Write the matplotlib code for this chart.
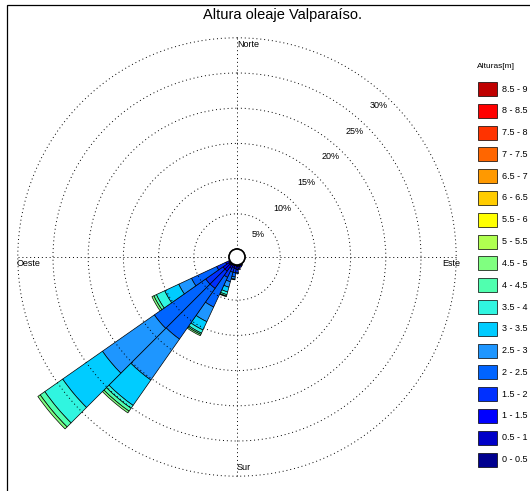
import numpy as np
import matplotlib.pyplot as plt
from matplotlib.patches import Rectangle, Circle

plt.rcParams['font.family'] = ['Liberation Sans', 'DejaVu Sans']

# clases de altura [m] y colores de cada clase
clases = ['0 - 0.5', '0.5 - 1', '1 - 1.5', '1.5 - 2', '2 - 2.5', '2.5 - 3',
          '3 - 3.5', '3.5 - 4', '4 - 4.5', '4.5 - 5', '5 - 5.5', '5.5 - 6',
          '6 - 6.5', '6.5 - 7', '7 - 7.5', '7.5 - 8', '8 - 8.5', '8.5 - 9']
colores = ['#00008f', '#0000c8', '#0000ff', '#0030ff', '#0064ff', '#1e96ff',
           '#00ccff', '#30f5e0', '#50ffaf', '#80ff80', '#b0ff50', '#ffff00',
           '#ffcc00', '#ff9900', '#ff6600', '#ff3300', '#ff0000', '#bf0000']

# frecuencia [%] por direccion (grados desde el norte), una entrada por clase
direcciones = [150, 160, 170, 180, 190, 200, 210, 220, 230, 240]
f150 = [0.10, 0.15]
f160 = [0.05, 0.15, 0.20]
f170 = [0.05, 0.15, 0.30, 0.20]
f180 = [0.05, 0.20, 0.40, 0.40, 0.20]
f190 = [0.02, 0.10, 0.40, 0.60, 0.60, 0.30, 0.10]
f200 = [0.02, 0.08, 0.30, 0.70, 1.40, 0.80, 0.70, 0.40, 0.20, 0.10]
f210 = [0.03, 0.12, 0.50, 1.40, 4.65, 2.30, 1.30, 0.50, 0.20, 0.20]
f220 = [0.05, 0.25, 1.00, 3.00, 8.80, 7.10, 4.40, 0.50, 0.50, 0.30]
f230 = [0.05, 0.25, 1.00, 3.00, 8.90, 9.00, 6.90, 3.10, 0.80, 0.40]
f240 = [0.03, 0.12, 0.50, 1.40, 3.95, 2.00, 2.20, 1.30, 0.40, 0.30]
frecuencias = [f150, f160, f170, f180, f190, f200, f210, f220, f230, f240]

niveles = [5, 10, 15, 20, 25, 30]

fig = plt.figure(figsize=(5.30, 4.91), dpi=100)
W, H = 530, 491

# marco de la figura
fig.patches.append(Rectangle((7 / W, -0.02), 1.0, 1 - 5 / H + 0.02,
                             transform=fig.transFigure, fill=False,
                             edgecolor='k', linewidth=0.9))

cx, cy, r_hueco, px_pct = 237, 257, 8, 7.04
r_ax = r_hueco + px_pct * 30
ax = fig.add_axes([(cx - r_ax) / W, (H - cy - r_ax) / H, 2 * r_ax / W, 2 * r_ax / H],
                  projection='polar')
ax.set_theta_zero_location('N')
ax.set_theta_direction(-1)
ax.set_ylim(0, 30)
ax.set_rorigin(-r_hueco / px_pct)
ax.spines['polar'].set_visible(False)
ax.set_facecolor('none')

ancho = np.deg2rad(10)
for d, f in zip(direcciones, frecuencias):
    base = 0.0
    for k, v in enumerate(f):
        ax.bar(np.deg2rad(d), v, width=ancho, bottom=base, color=colores[k],
               edgecolor='k', linewidth=0.5, clip_on=False, zorder=2)
        base += v

ax.set_rgrids(niveles, labels=[''] * len(niveles))
ax.set_thetagrids([0, 90, 180, 270], labels=[''] * 4)
ax.grid(True, color='k', linestyle=(0, (1, 3)), linewidth=0.7)
for gl in ax.yaxis.get_gridlines() + ax.xaxis.get_gridlines():
    gl.set_clip_on(False)
ax.set_axisbelow(False)
ax.tick_params(length=0)

# etiquetas de porcentaje
for n in niveles:
    ax.text(np.deg2rad(43), n - 1.7, f'{n}%', fontsize=6.5, ha='center',
            va='center', zorder=4)

# puntos cardinales
kw = dict(fontsize=6.5, textcoords='offset points', zorder=4,
          annotation_clip=False)
ax.annotate('Norte', xy=(0, 30), xytext=(0, -5), ha='left', va='center', **kw)
ax.annotate('Sur', xy=(np.pi, 30), xytext=(0, 6), ha='left', va='center', **kw)
ax.annotate('Oeste', xy=(1.5 * np.pi, 30), xytext=(-1, -5), ha='left', va='center', **kw)
ax.annotate('Este', xy=(0.5 * np.pi, 30), xytext=(3, -5), ha='right', va='center', **kw)

# circulo central
ax.add_artist(Circle((0.5, 0.5), r_hueco / (2 * r_ax), transform=ax.transAxes,
                     facecolor='white', edgecolor='k', linewidth=1.2,
                     clip_on=False, zorder=5))

fig.text(282.5 / W, 1 - 15 / H, 'Altura oleaje Valparaíso.', fontsize=10.5,
         ha='center', va='center')

# leyenda
lg = fig.add_axes([0, 0, 1, 1])
lg.set_xlim(0, W)
lg.set_ylim(H, 0)
lg.axis('off')
lg.text(477, 66, 'Alturas[m]', fontsize=6, ha='left', va='center')
for i in range(len(clases)):
    k = len(clases) - 1 - i
    y = 89 + i * 21.8
    lg.add_patch(Rectangle((478, y - 7), 19, 14, facecolor=colores[k],
                           edgecolor='k', linewidth=0.5))
    lg.text(502, y, clases[k], fontsize=6.5, ha='left', va='center')

fig.savefig('out.png', dpi=100)
